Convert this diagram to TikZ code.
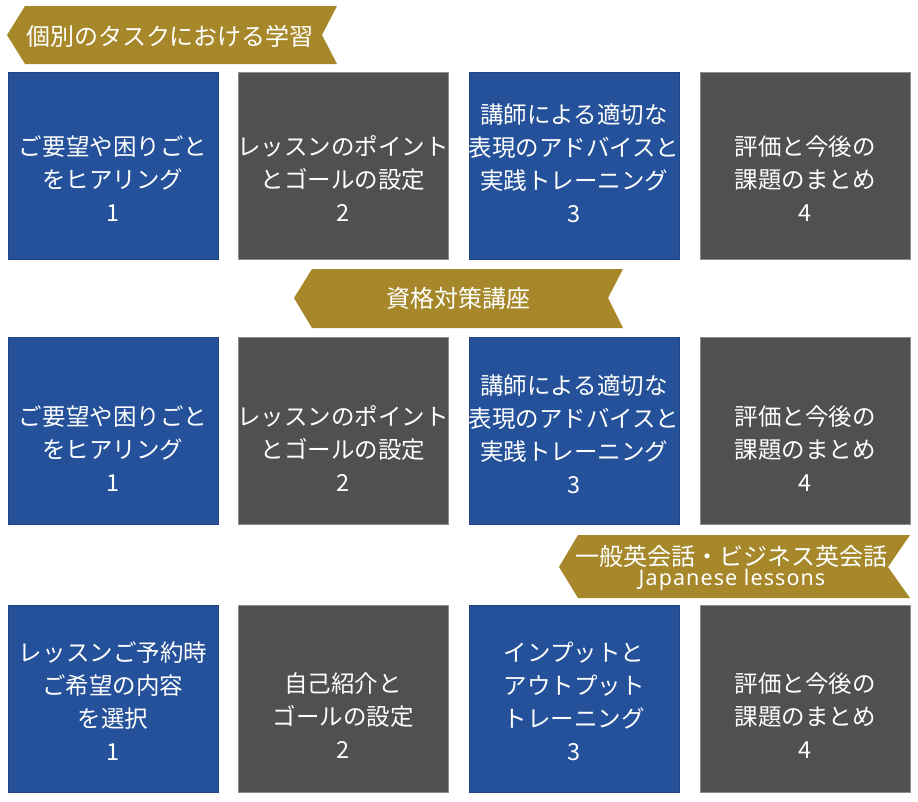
\documentclass[tikz,border=0pt]{standalone}
\usepackage{fontspec}
\setmainfont{Noto Sans CJK JP}
\newfontfamily\latinfont[LetterSpace=5]{Noto Sans}
\definecolor{boxblue}{HTML}{245199}
\definecolor{boxgray}{HTML}{505050}
\definecolor{gold}{HTML}{A6882A}
\begin{document}
\begin{tikzpicture}[x=1pt,y=-1pt,
  boxbase/.style={anchor=north west, minimum width=210pt, minimum height=187pt, inner sep=0pt, line width=0.8pt},
  bluebox/.style={boxbase, fill=boxblue, draw=boxblue!85!black},
  graybox/.style={boxbase, fill=boxgray, draw=gray!90},
  boxtext/.style={text=white, align=center, font=\fontsize{23.5}{33}\selectfont, inner sep=0pt},
  banner/.style={fill=gold},
  bannertext/.style={text=white, font=\fontsize{24}{28}\selectfont, inner sep=0pt}]
\useasboundingbox (0,0) rectangle (918,801);

% banners
\fill[banner] (25,6) -- (337,6) -- (322,35) -- (337,64) -- (25,64) -- (7,35) -- cycle;
\node[bannertext] (h1) at (170,36) {個別のタスクにおける学習};
\fill[banner] (312,269) -- (623,269) -- (608,298) -- (623,328) -- (312,328) -- (294,298) -- cycle;
\node[bannertext] (h2) at (458.5,298) {資格対策講座};
\fill[banner] (578,535) -- (910,535) -- (888,567) -- (910,598) -- (578,598) -- (559,567) -- cycle;
\node[bannertext] (h3) at (731.5,556) {一般英会話・ビジネス英会話};
\node[bannertext, font=\latinfont\fontsize{21.5}{24}\selectfont] (h3b) at (732,580) {Japanese lessons};

% row 1
\node[bluebox] (b11) at (8,72) {};
\node[graybox] (b12) at (238,72) {};
\node[bluebox] (b13) at (469,72) {};
\node[graybox] (b14) at (700,72) {};
\node[boxtext] (t11) at (113,179) {ご要望や困りごと\\をヒアリング\\1};
\node[boxtext] (t12) at (343,179) {レッスンのポイント\\とゴールの設定\\2};
\node[boxtext] (t13) at (574,163) {講師による適切な\\表現のアドバイスと\\実践トレーニング\\3};
\node[boxtext] (t14) at (805,179) {評価と今後の\\課題のまとめ\\4};

% row 2
\node[bluebox] (b21) at (8,337) {};
\node[graybox] (b22) at (238,337) {};
\node[bluebox] (b23) at (469,337) {};
\node[graybox] (b24) at (700,337) {};
\node[boxtext] (t21) at (113,449) {ご要望や困りごと\\をヒアリング\\1};
\node[boxtext] (t22) at (343,449) {レッスンのポイント\\とゴールの設定\\2};
\node[boxtext] (t23) at (574,434) {講師による適切な\\表現のアドバイスと\\実践トレーニング\\3};
\node[boxtext] (t24) at (805,449) {評価と今後の\\課題のまとめ\\4};

% row 3
\node[bluebox] (b31) at (8,605) {};
\node[graybox] (b32) at (238,605) {};
\node[bluebox] (b33) at (469,605) {};
\node[graybox] (b34) at (700,605) {};
\node[boxtext] (t31) at (113,701) {レッスンご予約時\\ご希望の内容\\を選択\\1};
\node[boxtext] (t32) at (343,716) {自己紹介と\\ゴールの設定\\2};
\node[boxtext] (t33) at (574,701) {インプットと\\アウトプット\\トレーニング\\3};
\node[boxtext] (t34) at (805,716) {評価と今後の\\課題のまとめ\\4};
\end{tikzpicture}
\end{document}
